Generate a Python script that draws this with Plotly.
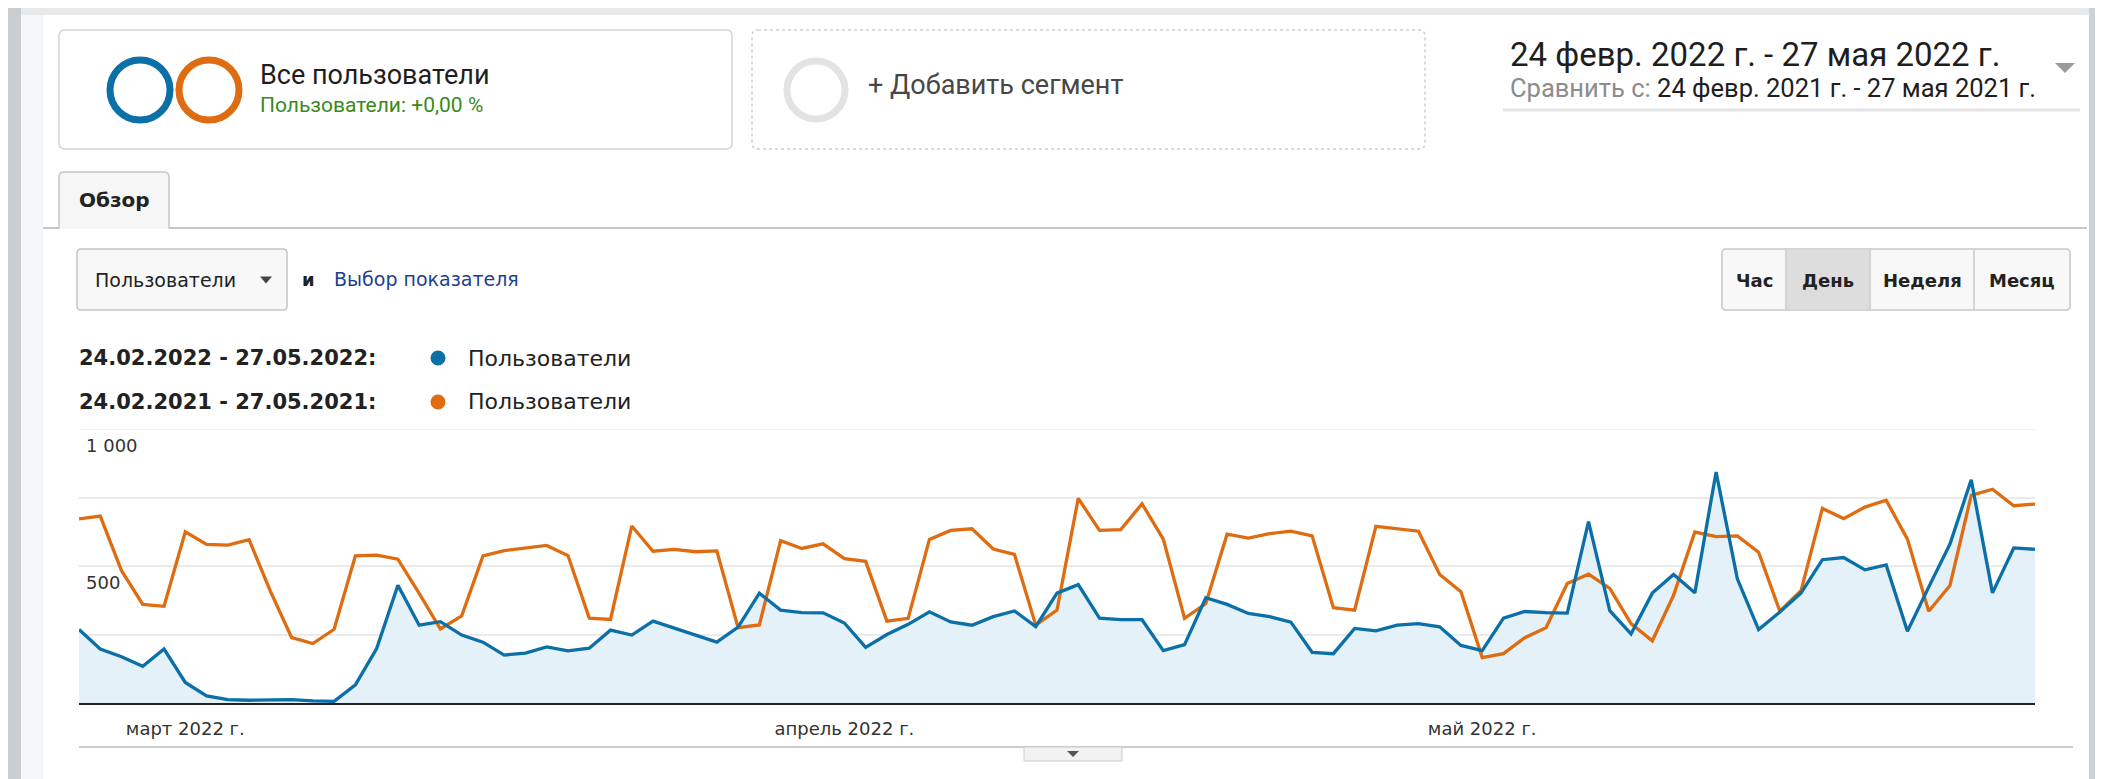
import plotly.graph_objects as go
import pandas as pd

W, H = 2103, 779

# ---- data (daily users) ----
start_date = "2022-02-24"
users_2022 = [268, 197, 169, 134, 197, 75, 26, 12, 10, 10, 12, 8, 6, 66, 199, 430, 284, 297, 248, 222,
              175, 182, 205, 190, 200, 266, 248, 299, 274, 250, 222, 277, 401, 339, 330, 329, 292, 203, 250, 287,
              333, 296, 284, 315, 336, 279, 401, 432, 310, 304, 304, 191, 213, 384, 360, 327, 315, 295, 185, 180,
              272, 263, 284, 290, 278, 210, 191, 310, 334, 330, 328, 662, 337, 252, 401, 469, 402, 843, 453, 268,
              332, 402, 523, 531, 486, 504, 262, 423, 580, 815, 402, 566, 561]
users_2021 = [672, 682, 483, 360, 353, 625, 579, 576, 596, 408, 239, 217, 269, 537, 540, 525, 400, 270, 318, 537,
              556, 567, 575, 538, 310, 305, 646, 554, 561, 552, 555, 275, 285, 592, 564, 581, 527, 517, 299, 309,
              597, 630, 636, 562, 542, 284, 339, 747, 630, 633, 727, 598, 309, 363, 616, 602, 618, 627, 610, 348,
              339, 645, 637, 627, 469, 406, 166, 180, 238, 275, 436, 470, 418, 290, 227, 393, 624, 607, 610, 550,
              335, 411, 710, 673, 715, 740, 598, 335, 429, 758, 780, 720, 726]
month_ticks = ["2022-03-01", "2022-04-01", "2022-05-01"]
month_labels = ["март 2022 г.", "апрель 2022 г.", "май 2022 г."]
y_grid = [0, 250, 500, 750, 1000]
y_labels = {1000: "1 000", 500: "500"}

dates = pd.date_range(start_date, periods=len(users_2022))

BLUE = "#0b6fa8"
ORANGE = "#df6c10"
FILL = "#e4f1f8"

DX, DY = -7, -8


def X(px):
    return (px + DX) / W


def Y(py):
    return 1 - (py + DY) / H


def rrect(x0, y0, x1, y1, r):
    return (f"M {X(x0 + r)},{Y(y0)} L {X(x1 - r)},{Y(y0)} Q {X(x1)},{Y(y0)} {X(x1)},{Y(y0 + r)} "
            f"L {X(x1)},{Y(y1 - r)} Q {X(x1)},{Y(y1)} {X(x1 - r)},{Y(y1)} "
            f"L {X(x0 + r)},{Y(y1)} Q {X(x0)},{Y(y1)} {X(x0)},{Y(y1 - r)} "
            f"L {X(x0)},{Y(y0 + r)} Q {X(x0)},{Y(y0)} {X(x0 + r)},{Y(y0)} Z")


shapes = []


def raw_rect(x0, y0, x1, y1, fill):
    shapes.append(dict(type="rect", xref="paper", yref="paper", x0=x0 / W, x1=x1 / W,
                       y0=1 - y1 / H, y1=1 - y0 / H, fillcolor=fill, line=dict(color=fill, width=0),
                       layer="below"))


def rect(x0, y0, x1, y1, fill, line=None, lw=0, layer="below"):
    shapes.append(dict(type="rect", xref="paper", yref="paper", x0=X(x0), x1=X(x1), y0=Y(y1), y1=Y(y0),
                       fillcolor=fill, line=dict(color=line or fill, width=lw), layer=layer))


def hline(x0, x1, y, color, w):
    shapes.append(dict(type="line", xref="paper", yref="paper", x0=X(x0), x1=X(x1), y0=Y(y), y1=Y(y),
                       line=dict(color=color, width=w)))


def vline(x, y0, y1, color, w):
    shapes.append(dict(type="line", xref="paper", yref="paper", x0=X(x), x1=X(x), y0=Y(y0), y1=Y(y1),
                       line=dict(color=color, width=w)))


def ring(cx, cy, r, color, w):
    shapes.append(dict(type="circle", xref="paper", yref="paper", x0=X(cx - r), x1=X(cx + r),
                       y0=Y(cy + r), y1=Y(cy - r), line=dict(color=color, width=w)))


def dot(cx, cy, r, color):
    shapes.append(dict(type="circle", xref="paper", yref="paper", x0=X(cx - r), x1=X(cx + r),
                       y0=Y(cy + r), y1=Y(cy - r), fillcolor=color, line=dict(color=color, width=0)))


def tri(cx, cy, w, h, color):
    p = f"M {X(cx - w / 2)},{Y(cy - h / 2)} L {X(cx + w / 2)},{Y(cy - h / 2)} L {X(cx)},{Y(cy + h / 2)} Z"
    shapes.append(dict(type="path", xref="paper", yref="paper", path=p, fillcolor=color,
                       line=dict(color=color, width=0)))


def path(p, fill, line, lw, dash="solid"):
    shapes.append(dict(type="path", xref="paper", yref="paper", path=p, fillcolor=fill,
                       line=dict(color=line, width=lw, dash=dash)))


# page frame (unshifted)
raw_rect(0, 0, W, 7, "#e7e9ea")
raw_rect(0, 0, 13, H, "#c9cdcf")
raw_rect(13, 7, 35, H, "#f4f6f7")
raw_rect(2081, 0, W, H, "#ced2d4")

# segment boxes
path(rrect(58, 30, 731, 149, 6), "#ffffff", "#d4d4d4", 1.5)
ring(139, 90, 30, BLUE, 7)
ring(208, 90, 30, ORANGE, 7)
path(rrect(751, 30, 1424, 149, 6), "#ffffff", "#cfcfcf", 1.5, "dot")
ring(815, 90, 29, "#e3e3e3", 7)

# date range
tri(2064, 68, 20, 10, "#9a9a9a")
hline(1502, 2079, 110, "#e3e3e3", 3)

# tab bar
hline(42, 58, 228, "#c6c6c6", 2)
hline(168, 2086, 228, "#c6c6c6", 2)
tab = (f"M {X(58)},{Y(229)} L {X(58)},{Y(177)} Q {X(58)},{Y(172)} {X(63)},{Y(172)} "
       f"L {X(163)},{Y(172)} Q {X(168)},{Y(172)} {X(168)},{Y(177)} L {X(168)},{Y(229)}")
path(tab, "#f6f6f6", "#c6c6c6", 1.5)

# metric dropdown
path(rrect(76, 249, 286, 310, 4), "#f8f8f8", "#c4c4c4", 1.5)
tri(265, 280, 12, 7, "#444444")

# period buttons
path(rrect(1721, 249, 2069, 310, 4), "#f8f8f8", "#c8c8c8", 1.5)
rect(1786, 250, 1868, 309, "#dddddd", layer="above")
for sx in (1785, 1869, 1973):
    vline(sx, 250, 309, "#c8c8c8", 1.5)

# legend dots
dot(437, 358, 7.5, BLUE)
dot(437, 402, 7.5, ORANGE)

# bottom of chart
hline(78, 2072, 747, "#cccccc", 2)
rect(1023, 747, 1121, 761, "#f2f2f2", "#cccccc", 1, layer="above")
tri(1072, 754, 12, 6, "#555555")

annotations = []


def text(x, y, s, size, color="#222222", family="DejaVu Sans", anchor="left", bold=False):
    if bold:
        s = f"<b>{s}</b>"
    annotations.append(dict(x=X(x), y=Y(y), xref="paper", yref="paper", text=s, showarrow=False,
                            xanchor=anchor, yanchor="middle",
                            font=dict(size=size, color=color, family=family)))


text(257, 75, "Все пользователи", 27, "#1e1e1e", "Roboto")
text(257, 105, "Пользователи: +0,00 %", 21, "#3b8a1b", "Roboto")
text(865, 85, "+ Добавить сегмент", 27, "#474747", "Roboto")
text(1507, 55, "24 февр. 2022 г. - 27 мая 2022 г.", 33, "#1e1e1e", "Roboto")
text(1507, 88, '<span style="color:#8c8c8c">Сравнить с:</span> 24 февр. 2021 г. - 27 мая 2021 г.', 25.5,
     "#1e1e1e", "Roboto")
text(113, 200, "Обзор", 20, "#222222", anchor="center", bold=True)
text(92, 280, "Пользователи", 19, "#222222")
text(299, 279, "и", 18, "#222222", bold=True)
text(331, 279, "Выбор показателя", 19, "#1d3f8f")
for label, cx in (("Час", 1753), ("День", 1827), ("Неделя", 1921), ("Месяц", 2021)):
    text(cx, 280, label, 18, "#222222", anchor="center", bold=True)
text(76, 358, "24.02.2022 - 27.05.2022:", 21, "#222222", bold=True)
text(76, 402, "24.02.2021 - 27.05.2021:", 21, "#222222", bold=True)
text(465, 358, "Пользователи", 22, "#222222")
text(465, 402, "Пользователи", 22, "#222222")

for val, lab in y_labels.items():
    annotations.append(dict(x=X(83), y=val, xref="paper", yref="y", text=lab, showarrow=False,
                            xanchor="left", yanchor="middle", yshift=-16,
                            font=dict(size=18, color="#333333", family="DejaVu Sans")))

fig = go.Figure()
fig.add_trace(go.Scatter(x=dates, y=users_2022, mode="lines", fill="tozeroy", fillcolor=FILL,
                         line=dict(width=0, color=FILL), hoverinfo="skip", showlegend=False))
fig.add_trace(go.Scatter(x=dates, y=users_2021, mode="lines", name="24.02.2021 - 27.05.2021: Пользователи",
                         line=dict(color=ORANGE, width=3.3), showlegend=False))
fig.add_trace(go.Scatter(x=dates, y=users_2022, mode="lines", name="24.02.2022 - 27.05.2022: Пользователи",
                         line=dict(color=BLUE, width=3.3), showlegend=False))

# top gridline (1000), drawn explicitly as plotly omits it at the range edge
shapes.append(dict(type="line", xref="paper", yref="y", x0=X(78), x1=X(2034), y0=1000, y1=1000,
                   line=dict(color="#ebebeb", width=1.5), layer="below"))

fig.update_layout(
    width=W, height=H, margin=dict(l=0, r=0, t=0, b=0),
    paper_bgcolor="#ffffff", plot_bgcolor="#ffffff",
    shapes=shapes, annotations=annotations, showlegend=False,
    xaxis=dict(domain=[X(78), X(2034)], range=[dates[0], dates[-1]], showgrid=False, zeroline=False,
               showline=True, linecolor="#222222", linewidth=2, ticks="",
               tickvals=month_ticks, ticktext=month_labels, ticklabelstandoff=8,
               tickfont=dict(size=18, color="#333333", family="DejaVu Sans")),
    yaxis=dict(domain=[Y(703), Y(429)], range=[0, 1000], tickvals=y_grid, showticklabels=False,
               showgrid=True, gridcolor="#ebebeb", gridwidth=1.5, zeroline=False, ticks=""),
)

fig.write_html("out.html")
